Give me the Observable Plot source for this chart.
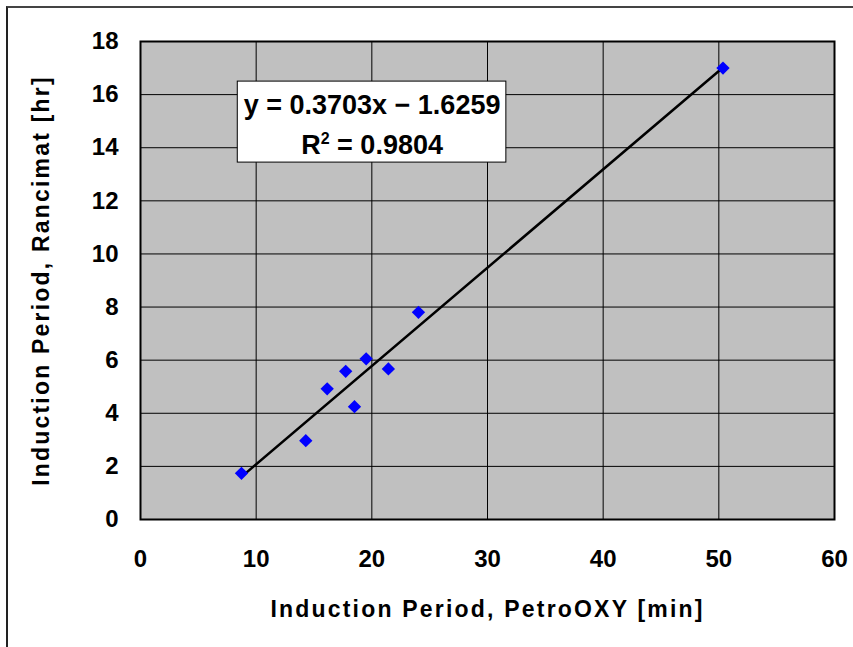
<!DOCTYPE html>
<html>
<head>
<meta charset="utf-8">
<script src="https://cdn.jsdelivr.net/npm/d3@7"></script>
<script src="https://cdn.jsdelivr.net/npm/@observablehq/plot@0.6"></script>
<style>
  html, body { margin: 0; padding: 0; background: #fff; }
  #wrap { position: relative; width: 853px; height: 647px; overflow: hidden; }
  #border { position: absolute; left: 6px; top: 6px; width: 900px; height: 700px;
            border-left: 2px solid #222; border-top: 2px solid #444; }
  #chart { position: absolute; left: 0; top: 0; }
  #chart svg g[aria-label="x-axis tick label"] text,
  #chart svg g[aria-label="y-axis tick label"] text { font-size: 24px; font-weight: bold; }
  #chart svg g[aria-label="x-axis label"] text,
  #chart svg g[aria-label="y-axis label"] text { font-size: 23px; font-weight: bold; letter-spacing: 2.2px; }
</style>
</head>
<body>
<div id="wrap"><div id="chart"></div><div id="border"></div></div>
<script>
// Induction period measured by PetroOXY [min] vs Rancimat [hr]
const petroOxy = [8.73, 14.29, 16.14, 17.74, 18.50, 19.51, 21.43, 24.03, 50.36];
const rancimat = [1.74, 2.97, 4.92, 5.58, 4.25, 6.05, 5.67, 7.80, 17.00];

// Linear trendline and fit quality
const slope = 0.3703;
const intercept = -1.6259;
const rSquared = 0.9804;

const xTicks = [0, 10, 20, 30, 40, 50, 60];
const yTicks = [0, 2, 4, 6, 8, 10, 12, 14, 16, 18];

const points = petroOxy.map((x, i) => ({x, y: rancimat[i]}));
const xMin = d3.min(petroOxy), xMax = d3.max(petroOxy);
const trend = [xMin, xMax].map(x => ({x, y: slope * x + intercept}));

const eqLine1 = `y = ${slope.toFixed(4)}x \u2212 ${Math.abs(intercept).toFixed(4)}`;
const eqLine2 = `R2 = ${rSquared.toFixed(4)}`;

const font = "'Liberation Sans', Arial, sans-serif";

const chart = Plot.plot({
  width: 853,
  height: 647,
  marginLeft: 140,
  marginRight: 19,
  marginTop: 41,
  marginBottom: 128,
  style: {fontFamily: font, fontWeight: "bold", fontSize: "24px", color: "#000", background: "transparent"},
  x: {domain: [0, 60], ticks: xTicks, tickSize: 0, tickPadding: 30,
      label: "Induction Period, PetroOXY [min]", labelAnchor: "center", labelArrow: "none", labelOffset: 97},
  y: {domain: [0, 18], ticks: yTicks, tickSize: 0, tickPadding: 22,
      label: "Induction Period, Rancimat [hr]", labelAnchor: "center", labelArrow: "none", labelOffset: 108},
  marks: [
    Plot.frame({fill: "#c0c0c0"}),
    Plot.gridX(xTicks.slice(1, -1), {stroke: "#000", strokeOpacity: 1, strokeWidth: 1}),
    Plot.gridY(yTicks.slice(1, -1), {stroke: "#000", strokeOpacity: 1, strokeWidth: 1}),
    Plot.frame({stroke: "#000", strokeWidth: 2}),
    Plot.line(trend, {x: "x", y: "y", stroke: "#000", strokeWidth: 2.5}),
    Plot.dot(points, {x: "x", y: "y", symbol: "diamond2", r: 6, fill: "#0000ff", stroke: "none"}),
    // equation box
    Plot.rect([{x1: 8.41, x2: 31.63, y1: 13.44, y2: 16.49}],
      {x1: "x1", x2: "x2", y1: "y1", y2: "y2", fill: "#fff", stroke: "#000", strokeWidth: 1}),
    Plot.text([eqLine1], {x: 20.02, y: 15.58, text: d => d, fontSize: 27, fontWeight: "bold", fill: "#000", className: "eq1"}),
    Plot.text([eqLine2], {x: 20.02, y: 14.08, text: d => d, fontSize: 27, fontWeight: "bold", fill: "#000", className: "eq2"})
  ]
});

// Superscript for R²
d3.select(chart).selectAll("g.eq2 text").each(function() {
  const t = d3.select(this);
  t.text(null);
  t.append("tspan").text("R");
  t.append("tspan").attr("dy", "-10px").style("font-size", "16px").text("2");
  t.append("tspan").attr("dy", "10px").text(` = ${rSquared.toFixed(4)}`);
});

document.getElementById("chart").appendChild(chart);
</script>
</body>
</html>
